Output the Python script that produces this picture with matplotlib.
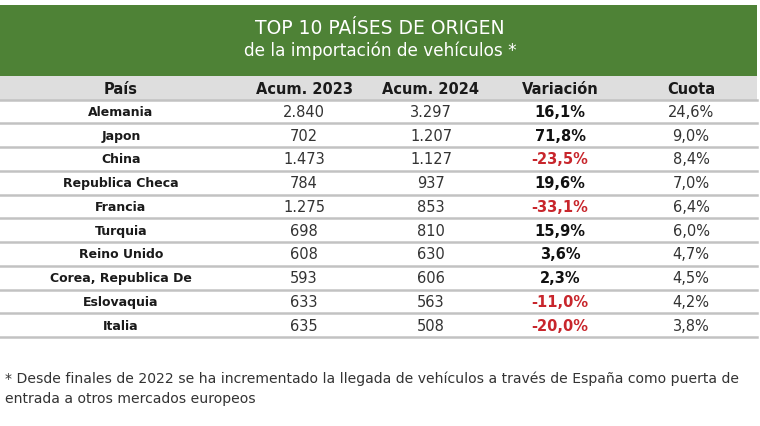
import matplotlib.pyplot as plt
from matplotlib.patches import Rectangle

# table data
countries = ["Alemania", "Japon", "China", "Republica Checa", "Francia",
             "Turquia", "Reino Unido", "Corea, Republica De", "Eslovaquia",
             "Italia"]
acum_2023 = ["2.840", "702", "1.473", "784", "1.275", "698", "608", "593",
             "633", "635"]
acum_2024 = ["3.297", "1.207", "1.127", "937", "853", "810", "630", "606",
             "563", "508"]
variacion = [16.1, 71.8, -23.5, 19.6, -33.1, 15.9, 3.6, 2.3, -11.0, -20.0]
cuota = [24.6, 9.0, 8.4, 7.0, 6.4, 6.0, 4.7, 4.5, 4.2, 3.8]
headers = ["País", "Acum. 2023", "Acum. 2024", "Variación", "Cuota"]

title = "TOP 10 PAÍSES DE ORIGEN"
subtitle = "de la importación de vehículos *"
footnote = ("* Desde finales de 2022 se ha incrementado la llegada de vehículos"
            " a través de España como puerta de\nentrada a otros mercados europeos")

plt.rcParams['font.family'] = ['DejaVu Sans']

fig = plt.figure(figsize=(7.6, 4.27), dpi=100)
ax = fig.add_axes([0, 0, 1, 1])
ax.set_xlim(0, 760)
ax.set_ylim(427, 0)
ax.axis("off")

green = "#4e8236"
col_x = [121, 304, 431, 560, 691]
row_h = 23.75
top = 100.5

# title block
ax.add_patch(Rectangle((0, 6), 757, 71, color=green, lw=0))
ax.text(380, 28, title, color="white", fontsize=13.5, ha="center",
        va="center")
ax.text(380, 51, subtitle, color="white", fontsize=12.2, ha="center",
        va="center")

# header row
ax.add_patch(Rectangle((0, 77), 757, top - 77, color="#dedede", lw=0))
for x, h in zip(col_x, headers):
    ax.text(x, 89, h, fontsize=10.5, ha="center", va="center",
            fontweight="bold", color="#1a1a1a")

# body rows
for i in range(len(countries)):
    y = top + row_h * (i + 0.5)
    ax.text(col_x[0], y, countries[i], fontsize=9, ha="center",
            va="center", fontweight="bold", color="#1a1a1a")
    ax.text(col_x[1], y, acum_2023[i], fontsize=10.5, ha="center",
            va="center", color="#333333")
    ax.text(col_x[2], y, acum_2024[i], fontsize=10.5, ha="center",
            va="center", color="#333333")
    v = variacion[i]
    ax.text(col_x[3], y, f"{v:.1f}%".replace(".", ","), fontsize=10.5,
            ha="center", va="center", fontweight="bold",
            color="#c8262c" if v < 0 else "#111111")
    ax.text(col_x[4], y, f"{cuota[i]:.1f}%".replace(".", ","),
            fontsize=10.5, ha="center", va="center", color="#333333")
    ax.plot([0, 757], [top + row_h * (i + 1)] * 2, color="#c2c2c2", lw=1.8)
ax.plot([0, 757], [top, top], color="#c2c2c2", lw=1.8)

# footnote
ax.text(5, 389, footnote, fontsize=10.1, ha="left", va="center",
        color="#333333", linespacing=1.55)

fig.savefig("out.png", dpi=100)
